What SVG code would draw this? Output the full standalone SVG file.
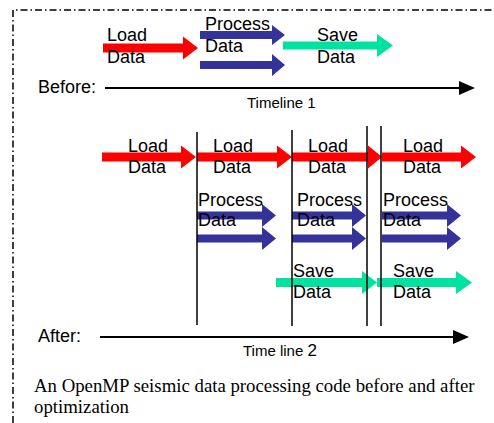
<svg xmlns="http://www.w3.org/2000/svg" width="494" height="423" viewBox="0 0 494 423">
  <defs>
    <style>
      .load { fill: #ff0000; }
      .proc { fill: #333399; }
      .save { fill: #00e3a0; }
      .lbl { font-family: "Liberation Sans", Arial, sans-serif; font-size: 18px; fill: #000; }
      .axis-lbl { font-family: "Liberation Sans", Arial, sans-serif; font-size: 15px; fill: #000; }
      .cap { font-family: "Liberation Serif", "Times New Roman", serif; font-size: 18.8px; fill: #000; }
      .axis { stroke: #000; stroke-width: 2; fill: none; }
      .stage { stroke: #000; stroke-width: 1.5; fill: none; }
      .frame { stroke: #000; stroke-width: 1.5; fill: none; stroke-dasharray: 7 3 1.5 3; }
    </style>
  </defs>

  <rect width="494" height="423" fill="#fff"/>

  <!-- dash-dot frame (left and top edges) -->
  <path class="frame" d="M13,423 V10 H494"/>

  <!-- ===== Before: sequential pipeline ===== -->
  <g id="before-load">
    <polygon class="load" points="103,43.5 183,43.5 183,36.5 198,48 183,59.5 183,52.5 103,52.5"/>
    <text class="lbl" x="107" y="41">Load</text>
    <text class="lbl" x="107" y="63">Data</text>
  </g>
  <g id="before-process">
    <polygon class="proc" points="200,31 272,31 272,25 285,35 272,45 272,39 200,39"/>
    <polygon class="proc" points="200,61 272,61 272,54 285,65 272,76 272,69 200,69"/>
    <text class="lbl" x="205" y="30">Process</text>
    <text class="lbl" x="205" y="52">Data</text>
  </g>
  <g id="before-save">
    <polygon class="save" points="283,41.5 377,41.5 377,34 393,45.5 377,57 377,49.5 283,49.5"/>
    <text class="lbl" x="317" y="41">Save</text>
    <text class="lbl" x="317" y="63">Data</text>
  </g>

  <!-- ===== After: overlapped pipeline ===== -->
  <g id="after-load-1">
    <polygon class="load" points="102,152.5 181,152.5 181,145.5 196,157 181,168.5 181,161.5 102,161.5"/>
    <text class="lbl" x="128" y="152">Load</text>
    <text class="lbl" x="128" y="173">Data</text>
  </g>
  <g id="after-load-2">
    <polygon class="load" points="197,152.5 277,152.5 277,145.5 292,157 277,168.5 277,161.5 197,161.5"/>
    <text class="lbl" x="213" y="152">Load</text>
    <text class="lbl" x="213" y="173">Data</text>
  </g>
  <g id="after-load-3">
    <polygon class="load" points="292,152.5 368,152.5 368,145.5 382,157 368,168.5 368,161.5 292,161.5"/>
    <text class="lbl" x="308" y="152">Load</text>
    <text class="lbl" x="308" y="173">Data</text>
  </g>
  <g id="after-load-4">
    <polygon class="load" points="382,152.5 461,152.5 461,145.5 476,157 461,168.5 461,161.5 382,161.5"/>
    <text class="lbl" x="403" y="152">Load</text>
    <text class="lbl" x="403" y="173">Data</text>
  </g>

  <g id="after-process-1">
    <polygon class="proc" points="197,211.5 262,211.5 262,204 276,215.5 262,227 262,219.5 197,219.5"/>
    <polygon class="proc" points="197,234.5 262,234.5 262,227 276,238.5 262,250 262,242.5 197,242.5"/>
    <text class="lbl" x="198" y="206">Process</text>
    <text class="lbl" x="198" y="226">Data</text>
  </g>
  <g id="after-process-2">
    <polygon class="proc" points="292,211.5 352,211.5 352,204 366,215.5 352,227 352,219.5 292,219.5"/>
    <polygon class="proc" points="292,234.5 352,234.5 352,227 366,238.5 352,250 352,242.5 292,242.5"/>
    <text class="lbl" x="297" y="206">Process</text>
    <text class="lbl" x="297" y="226">Data</text>
  </g>
  <g id="after-process-3">
    <polygon class="proc" points="382,211.5 447,211.5 447,204 461,215.5 447,227 447,219.5 382,219.5"/>
    <polygon class="proc" points="382,234.5 447,234.5 447,227 461,238.5 447,250 447,242.5 382,242.5"/>
    <text class="lbl" x="383" y="206">Process</text>
    <text class="lbl" x="383" y="226">Data</text>
  </g>

  <g id="after-save-1">
    <polygon class="save" points="276,278 362,278 362,271 377,282.5 362,294 362,287 276,287"/>
    <text class="lbl" x="293" y="277">Save</text>
    <text class="lbl" x="293" y="298">Data</text>
  </g>
  <g id="after-save-2">
    <polygon class="save" points="377,278 456,278 456,271 472,282.5 456,294 456,287 377,287"/>
    <text class="lbl" x="393" y="277">Save</text>
    <text class="lbl" x="393" y="298">Data</text>
  </g>

  <!-- timelines and stage boundaries -->
  <g id="connectors">
    <line class="axis" x1="105" y1="88" x2="460" y2="88"/>
    <polygon points="459,81 475,88 459,95" fill="#000"/>
    <line class="axis" x1="100" y1="337" x2="454" y2="337"/>
    <polygon points="453,330 469,337 453,344" fill="#000"/>
    <line class="stage" x1="197" y1="132" x2="197" y2="325"/>
    <line class="stage" x1="292" y1="130" x2="292" y2="326"/>
    <line class="stage" x1="367" y1="126" x2="367" y2="326"/>
    <line class="stage" x1="381" y1="126" x2="381" y2="326"/>
  </g>

  <!-- axis labels -->
  <g id="labels">
    <text class="lbl" x="38" y="93">Before:</text>
    <text class="axis-lbl" x="247" y="108">Timeline 1</text>
    <text class="lbl" x="38" y="342">After:</text>
    <text class="axis-lbl" x="243" y="356">Time line <tspan font-size="17">2</tspan></text>
  </g>

  <!-- caption -->
  <g id="caption">
    <text class="cap" x="34" y="392">An OpenMP seismic data processing code before and after</text>
    <text class="cap" x="34" y="413">optimization</text>
  </g>
</svg>
